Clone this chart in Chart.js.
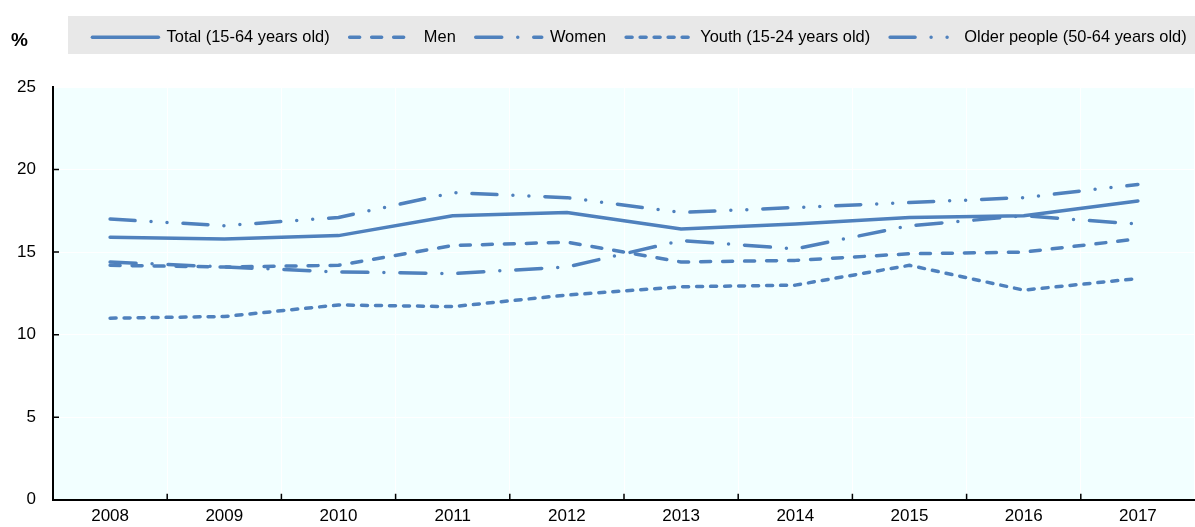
<!DOCTYPE html>
<html>
<head>
<meta charset="utf-8">
<script src="https://cdn.jsdelivr.net/npm/chart.js@4"></script>
<style>
  html, body { margin: 0; padding: 0; background: #ffffff; }
  #wrap { position: relative; width: 1195px; height: 527px; }
</style>
</head>
<body>
<div id="wrap"><canvas id="chart" width="1195" height="527"></canvas></div>
<script>
// Data (%)
const years = ['2008', '2009', '2010', '2011', '2012', '2013', '2014', '2015', '2016', '2017'];
const total = [15.9, 15.8, 16.0, 17.2, 17.4, 16.4, 16.7, 17.1, 17.2, 18.1];
const men   = [14.2, 14.1, 14.2, 15.4, 15.6, 14.4, 14.5, 14.9, 15.0, 15.8];
const women = [14.4, 14.1, 13.8, 13.7, 14.1, 15.7, 15.2, 16.6, 17.2, 16.7];
const youth = [11.0, 11.1, 11.8, 11.7, 12.4, 12.9, 13.0, 14.2, 12.7, 13.4];
const older = [17.0, 16.6, 17.1, 18.6, 18.3, 17.4, 17.7, 18.0, 18.3, 19.1];
const seriesNames = ['Total (15-64 years old)', 'Men', 'Women', 'Youth (15-24 years old)', 'Older people (50-64 years old)'];

const BLUE = '#4F81BD';
const FONT = "'Liberation Sans', Arial, sans-serif";

function line(label, data, dash) {
    return {
        label: label,
        data: data,
        borderColor: BLUE,
        backgroundColor: BLUE,
        borderWidth: 3.5,
        borderDash: dash,
        borderCapStyle: 'round',
        borderJoinStyle: 'round',
        pointRadius: 0,
        pointHoverRadius: 0,
        tension: 0,
        fill: false
    };
}

// plot background, grey legend band, "%" label, inward tick marks
const decor = {
    id: 'decor',
    beforeLayout(chart) {
        const lg = chart.legend;
        if (lg && !lg._patched) {
            const fit = lg.fit;
            lg.fit = function() { fit.call(this); this.height = 78; };
            lg._patched = true;
        }
    },
    afterLayout(chart) {
        const lg = chart.legend;
        lg.left += 42; lg.right += 42;
    },
    beforeDraw(chart) {
        const ctx = chart.ctx, a = chart.chartArea;
        ctx.save();
        ctx.fillStyle = '#E8E8E8';
        ctx.fillRect(68, 16, a.right - 68, 38);
        ctx.fillStyle = '#F2FFFF';
        ctx.fillRect(a.left, a.top, a.right - a.left, a.bottom - a.top);
        ctx.restore();
    },
    afterDraw(chart) {
        const ctx = chart.ctx, a = chart.chartArea;
        const xs = chart.scales.x, ys = chart.scales.y;
        ctx.save();
        ctx.fillStyle = '#000';
        ctx.font = 'bold 19px ' + FONT;
        ctx.textBaseline = 'middle';
        ctx.fillText('%', 11, 41);
        ctx.strokeStyle = '#000';
        ctx.lineWidth = 1.5;
        ctx.beginPath();
        ys.ticks.forEach(t => {
            if (t.value === ys.min || t.value === ys.max) return;
            const py = ys.getPixelForValue(t.value);
            ctx.moveTo(a.left, py); ctx.lineTo(a.left + 6, py);
        });
        for (let i = 1; i < years.length; i++) {
            const px = (xs.getPixelForValue(i - 1) + xs.getPixelForValue(i)) / 2;
            ctx.moveTo(px, a.bottom); ctx.lineTo(px, a.bottom - 6);
        }
        ctx.stroke();
        ctx.restore();
    }
};

new Chart(document.getElementById('chart'), {
    type: 'line',
    data: {
        labels: years,
        datasets: [
            line(seriesNames[0], total, []),
            line(seriesNames[1], men, [10, 12]),
            line(seriesNames[2], women, [26, 16, 0, 16]),
            line(seriesNames[3], youth, [6, 8]),
            line(seriesNames[4], older, [25, 16, 0, 16, 0, 16])
        ]
    },
    options: {
        responsive: false,
        animation: false,
        layout: { padding: { top: 9, left: 0, right: 0, bottom: 0 } },
        plugins: {
            tooltip: { enabled: false },
            legend: {
                position: 'top',
                labels: {
                    usePointStyle: true,
                    pointStyle: 'line',
                    pointStyleWidth: 66,
                    padding: 20,
                    color: '#000',
                    font: { family: FONT, size: 16.4 },
                    // point-style items lose the dataset dash, so copy it back
                    generateLabels(chart) {
                        const items = Chart.defaults.plugins.legend.labels.generateLabels(chart);
                        items.forEach(it => {
                            const ds = chart.data.datasets[it.datasetIndex];
                            it.lineDash = ds.borderDash;
                            it.lineCap = 'round';
                            it.lineWidth = ds.borderWidth;
                            it.strokeStyle = ds.borderColor;
                            it.pointStyle = 'line';
                        });
                        return items;
                    }
                }
            }
        },
        scales: {
            x: {
                offset: true,
                grid: { offset: true, color: '#ffffff', lineWidth: 1, drawTicks: false },
                border: { color: '#000', width: 2 },
                ticks: { color: '#000', padding: 6, font: { family: FONT, size: 17 }, maxRotation: 0 },
                afterFit(s) { s.height = 25; }
            },
            y: {
                min: 0,
                max: 25,
                grid: { color: '#ffffff', lineWidth: 1, drawTicks: false },
                border: { color: '#000', width: 2 },
                ticks: { stepSize: 5, color: '#000', padding: 17, font: { family: FONT, size: 17 } },
                afterFit(s) { s.width = 53; }
            }
        }
    },
    plugins: [decor]
});
</script>
</body>
</html>
